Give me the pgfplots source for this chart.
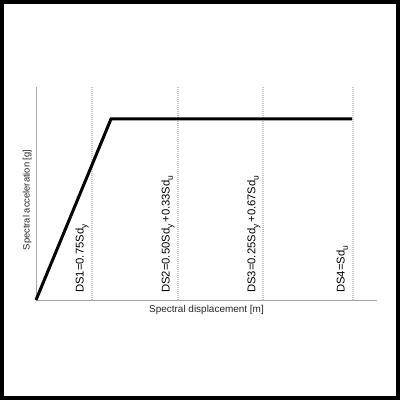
\documentclass[border=0pt]{standalone}
\usepackage{fontspec}
\setmainfont{Liberation Sans}
\usepackage{pgfplots}
\pgfplotsset{compat=1.18}
\newcommand{\sub}[1]{\raisebox{-0.55ex}{\fontsize{8.5}{9}\selectfont #1}}
\definecolor{dsgray}{HTML}{C6C6C6}
\definecolor{axgray}{HTML}{A6A6A6}
\begin{document}
\begin{tikzpicture}[x=1bp,y=1bp]
\useasboundingbox (0,0) rectangle (400,400);
\fill[white] (0,0) rectangle (400,400);
\draw[line width=4.5bp] (2.25,2.25) rectangle (397.75,397.75);
\begin{axis}[
  at={(36bp,100bp)}, anchor=south west,
  scale only axis, width=341bp, height=213bp,
  xmin=0, xmax=341, ymin=0, ymax=213,
  axis x line*=bottom, axis y line*=left,
  axis line style={axgray, line width=0.9bp},
  xtick=\empty, ytick=\empty,
  clip=false,
  xlabel={Spectral displacement [m]},
  xlabel style={font=\fontsize{10}{12}\selectfont, at={(axis description cs:0.5,0)}, anchor=north, yshift=-2bp, text=black!85},
  ylabel={Spectral acceleration [g]},
  ylabel style={font=\fontsize{9.4}{11}\selectfont, at={(axis description cs:0,0.47)}, anchor=south, yshift=1bp, text=black!85},
]
% damage-state thresholds
\addplot[dsgray, line width=1.8bp, dash pattern=on 1.2bp off 0.8bp] coordinates {(55.7,0) (55.7,213)};
\addplot[dsgray, line width=1.8bp, dash pattern=on 1.2bp off 0.8bp] coordinates {(141.7,0) (141.7,213)};
\addplot[dsgray, line width=1.8bp, dash pattern=on 1.2bp off 0.8bp] coordinates {(227.3,0) (227.3,213)};
\addplot[dsgray, line width=1.8bp, dash pattern=on 1.2bp off 0.8bp] coordinates {(316.7,0) (316.7,213)};
% bilinear capacity curve
\addplot[black, line width=3bp, line join=miter] coordinates {(0,0) (75,181) (316,181)};
\begin{scope}[every node/.style={rotate=90, anchor=base west, font=\fontsize{11.3}{13}\selectfont, inner sep=0pt}]
\node at (axis cs:47.7,7) {DS1=0.75Sd\sub{y}};
\node at (axis cs:133.7,7) {DS2=0.50Sd\sub{y}\,+0.33Sd\sub{u}};
\node at (axis cs:219.3,7) {DS3=0.25Sd\sub{y}\,+0.67Sd\sub{u}};
\node at (axis cs:308.7,7) {DS4=Sd\sub{u}};
\end{scope}
\end{axis}
\end{tikzpicture}
\end{document}
